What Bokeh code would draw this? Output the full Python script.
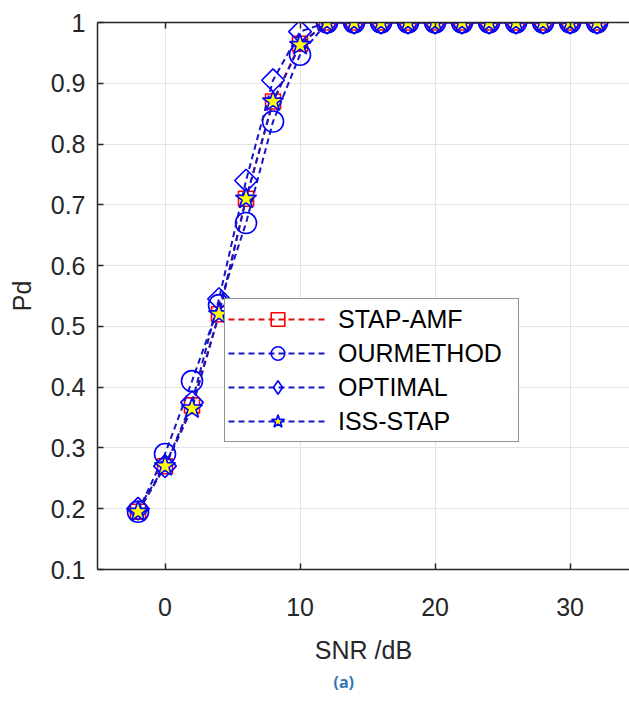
from bokeh.plotting import figure
from bokeh.models import LinearAxis, FixedTicker, Title, Range1d, Legend, LegendItem
from bokeh.embed import file_html
from bokeh.resources import INLINE
import math

# ---- data ----
snr = [-2, 0, 2, 4, 6, 8, 10, 12, 14, 16, 18, 20, 22, 24, 26, 28, 30, 32]
stap_amf = [0.195, 0.27, 0.37, 0.52, 0.71, 0.87, 0.965, 1.0, 1.0, 1.0, 1.0, 1.0, 1.0, 1.0, 1.0, 1.0, 1.0, 1.0]
ourmethod = [0.195, 0.29, 0.41, 0.535, 0.67, 0.837, 0.947, 1.0, 1.0, 1.0, 1.0, 1.0, 1.0, 1.0, 1.0, 1.0, 1.0, 1.0]
optimal = [0.2, 0.27, 0.375, 0.545, 0.74, 0.905, 0.985, 1.0, 1.0, 1.0, 1.0, 1.0, 1.0, 1.0, 1.0, 1.0, 1.0, 1.0]
iss_stap = [0.195, 0.27, 0.365, 0.52, 0.71, 0.87, 0.963, 1.0, 1.0, 1.0, 1.0, 1.0, 1.0, 1.0, 1.0, 1.0, 1.0, 1.0]
series_names = ["STAP-AMF", "OURMETHOD", "OPTIMAL", "ISS-STAP"]
x_ticks = [0, 10, 20, 30]
y_ticks = [0.1, 0.2, 0.3, 0.4, 0.5, 0.6, 0.7, 0.8, 0.9, 1.0]
x_label = "SNR /dB"
y_label = "Pd"
caption = "(a)"

FONT = "Liberation Sans"
AX = "#262626"

p = figure(frame_width=532, frame_height=547,
           x_range=Range1d(-5, 34.4), y_range=Range1d(0.1, 1.0),
           output_backend="svg", toolbar_location=None,
           min_border_left=97, min_border_top=22, min_border_right=0,
           min_border_bottom=0)
p.outline_line_color = None
p.background_fill_color = "white"

xax = p.below[0]
yax = p.left[0]
xax.ticker = FixedTicker(ticks=x_ticks)
yax.ticker = FixedTicker(ticks=y_ticks)
yax.major_label_overrides = {1.0: "1"}
xax.axis_label = x_label
yax.axis_label = y_label

top = LinearAxis(ticker=FixedTicker(ticks=x_ticks),
                 major_label_overrides={t: "" for t in x_ticks},
                 major_label_standoff=0)
p.add_layout(top, "above")

for ax in [xax, yax, top]:
    ax.axis_line_color = AX
    ax.axis_line_width = 1.5
    ax.major_tick_line_color = AX
    ax.major_tick_line_width = 1.5
    ax.major_tick_in = 6
    ax.major_tick_out = 0
    ax.minor_tick_line_color = None
    ax.major_label_text_font = FONT
    ax.major_label_text_color = AX
    ax.major_label_text_font_size = "25px"
    ax.axis_label_text_font = FONT
    ax.axis_label_text_color = AX
    ax.axis_label_text_font_style = "normal"
    ax.axis_label_text_font_size = "25px"
top.major_label_text_font_size = "1px"
xax.major_label_standoff = 28
yax.major_label_standoff = 12
xax.axis_label_standoff = 17
yax.axis_label_standoff = 12

p.grid.grid_line_color = "#e3e3e3"
p.grid.grid_line_width = 1
p.xgrid.ticker = FixedTicker(ticks=x_ticks)
p.ygrid.ticker = FixedTicker(ticks=y_ticks)

# series styling
data = [stap_amf, ourmethod, optimal, iss_stap]
colors = ["#ff0000", "#0000ff", "#0000ff", "#0000ff"]
line_colors = ["#e01010", "#1515c8", "#1515c8", "#1515c8"]
markers = ["square", "circle", "square", "star"]
legend_markers = ["square", "circle", "diamond", "star"]
sizes = [15, 21, 16, 22]
fills = [None, None, None, "#ffff00"]
angles = [0, 0, math.pi / 4, 0]

items = []
for name, vals, c, lc, m, lm, s, f, a in zip(series_names, data, colors, line_colors,
                                              markers, legend_markers, sizes, fills, angles):
    rl = p.line(snr, vals, line_color=lc, line_width=2, line_dash="6 4")
    rs = p.scatter(snr, vals, marker=m, size=s, line_color=c, fill_color=f,
                   line_width=1.6, angle=a)
    if lm != m:
        # legend-only sample of the marker shape (the plotted one is rotated)
        rd = p.scatter([float("nan")], [float("nan")], marker=lm, size=s,
                       line_color=c, fill_color=f, line_width=1.6)
        items.append(LegendItem(label=name, renderers=[rl, rd]))
    else:
        items.append(LegendItem(label=name, renderers=[rl, rs]))

lg = Legend(items=items, location=(127, 127))
lg.border_line_color = AX
lg.border_line_width = 1.5
lg.background_fill_color = "white"
lg.background_fill_alpha = 1
lg.label_text_font = FONT
lg.label_text_font_size = "25px"
lg.label_text_color = "black"
lg.glyph_width = 99
lg.glyph_height = 34
lg.label_height = 34
lg.label_width = 177
lg.spacing = 0
lg.padding = 3
lg.margin = 0
lg.label_standoff = 11
p.add_layout(lg, "center")

p.add_layout(Title(text=caption, align="left", offset=236, text_font="Open Sans",
                   text_font_style="bold", text_font_size="16px",
                   text_color="#2e75b6", standoff=4), "below")

open("out.html", "w").write(file_html(p, INLINE))
